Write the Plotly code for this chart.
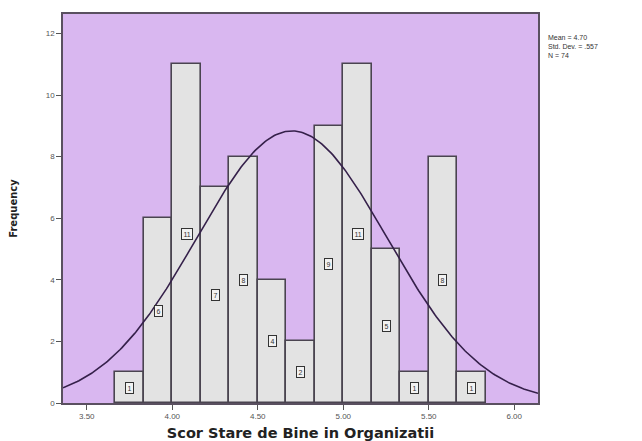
import numpy as np
import plotly.graph_objects as go

# Data
bin_edges_start = [3.6667, 3.8333, 4.0, 4.1667, 4.3333, 4.5, 4.6667, 4.8333, 5.0, 5.1667, 5.3333, 5.5, 5.6667]
bin_width = 1.0 / 6.0
counts = [1, 6, 11, 7, 8, 4, 2, 9, 11, 5, 1, 8, 1]
mean_val = 4.70
std_val = 0.557
n_val = 74
x_tick_vals = [3.5, 4.0, 4.5, 5.0, 5.5, 6.0]
x_tick_text = ["3.50", "4.00", "4.50", "5.00", "5.50", "6.00"]
y_tick_vals = [0, 2, 4, 6, 8, 10, 12]

x_range = [3.361, 6.139]
y_range = [0, 12.63]

centers = [s + bin_width / 2 for s in bin_edges_start]

fig = go.Figure()
fig.add_trace(go.Bar(
    x=centers, y=counts, width=bin_width,
    marker=dict(color="#E3E3E3", line=dict(color="#4a4450", width=1.6)),
    hoverinfo="skip", showlegend=False,
))

# Normal curve from the stated Mean / Std. Dev. / N
xc = np.linspace(x_range[0], x_range[1], 300)
yc = n_val * bin_width / (std_val * np.sqrt(2 * np.pi)) * np.exp(-0.5 * ((xc - mean_val) / std_val) ** 2)
fig.add_trace(go.Scatter(x=xc, y=yc, mode="lines",
                         line=dict(color="#35204a", width=1.6),
                         hoverinfo="skip", showlegend=False))

# count labels inside bars
for c, v in zip(centers, counts):
    fig.add_annotation(x=c, y=v / 2, text=str(v), showarrow=False,
                       font=dict(size=7, color="#333", family="Liberation Sans"),
                       bgcolor="#F2F2F2", bordercolor="#333", borderwidth=1,
                       borderpad=1.5)

fig.add_annotation(xref="paper", yref="paper", x=1.016, y=0.955, xanchor="left", yanchor="top",
                   text="Mean = 4.70<br>Std. Dev. = .557<br>N = 74", align="left",
                   showarrow=False,
                   font=dict(size=7, color="#333", family="Liberation Sans"))

fig.update_layout(
    width=634, height=433,
    margin=dict(l=55, r=104, t=6, b=38),
    paper_bgcolor="white", plot_bgcolor="#D9B7F0",
    bargap=0,
    xaxis=dict(range=x_range, tickvals=x_tick_vals, ticktext=x_tick_text, automargin=False,
               showgrid=False, zeroline=False, ticks="outside", ticklen=5,
               tickcolor="#555", showline=True, linecolor="#5a5060", linewidth=1.5,
               mirror=True, tickfont=dict(size=8, color="#555", family="Liberation Sans"),
               title=dict(text="<b>Scor Stare de Bine in Organizatii</b>", standoff=11,
                          font=dict(size=14.5, color="#222", family="DejaVu Sans"))),
    yaxis=dict(range=y_range, tickvals=y_tick_vals, automargin=False,
               showgrid=False, zeroline=False, ticks="outside", ticklen=5,
               tickcolor="#555", showline=True, linecolor="#5a5060", linewidth=1.5,
               mirror=True, tickfont=dict(size=8, color="#555", family="Liberation Sans"),
               title=dict(text="<b>Frequency</b>", standoff=26,
                          font=dict(size=10, color="#222", family="DejaVu Sans"))),
)

fig.write_html("out.html")
